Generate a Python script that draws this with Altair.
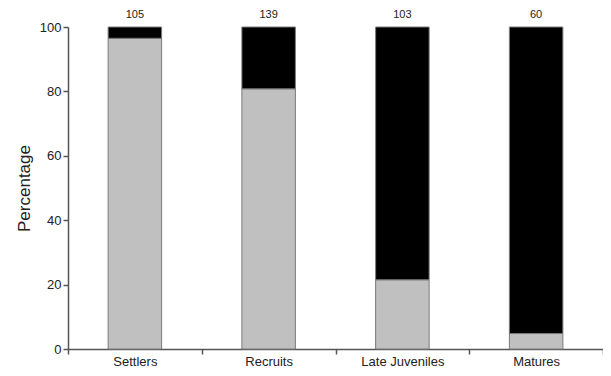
import altair as alt
import pandas as pd

categories = ["Settlers", "Recruits", "Late Juveniles", "Matures"]
gray_pct = [96.5, 80.8, 21.5, 4.8]
black_pct = [3.5, 19.2, 78.5, 95.2]
counts = [105, 139, 103, 60]

rows = []
for c, g, b in zip(categories, gray_pct, black_pct):
    rows.append({"cat": c, "part": "A", "ord": 0, "value": g})
    rows.append({"cat": c, "part": "B", "ord": 1, "value": b})
df = pd.DataFrame(rows)
dcount = pd.DataFrame({"cat": categories, "n": counts, "top": [100] * 4})

font = "Liberation Sans"
xscale = alt.Scale(domain=categories, paddingInner=0, paddingOuter=0)
yscale = alt.Scale(domain=[0, 100], nice=False)

bars = alt.Chart(df).mark_bar(stroke="#7a7a7a", strokeWidth=1, width=alt.RelativeBandSize(0.4)).encode(
    x=alt.X("cat:N", sort=categories, scale=xscale, title=None,
            axis=alt.Axis(labelAngle=0, labelFont=font, labelFontSize=13,
                          labelColor="#222", tickBand="extent", tickSize=5,
                          tickColor="#555", domainColor="#555", labelPadding=1)),
    y=alt.Y("value:Q", stack="zero", scale=yscale, title="Percentage",
            axis=alt.Axis(values=[0, 20, 40, 60, 80, 100], grid=False, tickSize=5,
                          tickColor="#555", domainColor="#555", labelFont=font,
                          labelFontSize=13, labelColor="#222", titleFont=font,
                          titleFontSize=17, titleFontWeight="normal",
                          titleColor="#222", titlePadding=6)),
    color=alt.Color("part:N", scale=alt.Scale(domain=["A", "B"], range=["#c0c0c0", "#000000"]), legend=None),
    order=alt.Order("ord:Q"),
)

labels = alt.Chart(dcount).mark_text(font=font, fontSize=11, color="#222", dy=-7, baseline="bottom").encode(
    x=alt.X("cat:N", sort=categories, scale=xscale),
    y=alt.Y("top:Q", scale=yscale),
    text="n:N",
)

chart = alt.layer(bars, labels).properties(
    width=535, height=322,
    autosize=alt.AutoSizeParams(type="none"),
    padding={"left": 60, "top": 19, "right": 0, "bottom": 19},
).configure_view(stroke=None).configure_axis(domainWidth=1.5, tickWidth=1.5)

chart.save("out.html", embed_options={"renderer": "svg", "actions": False})
